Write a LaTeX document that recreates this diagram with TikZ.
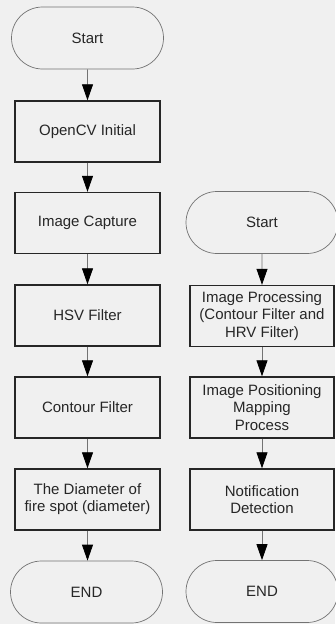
\documentclass[tikz,border=0pt]{standalone}
\usepackage{fontspec}
\setmainfont{Liberation Sans}
\usetikzlibrary{arrows.meta,shapes.misc}
\begin{document}
\begin{tikzpicture}[x=1pt,y=-1pt,
  txt/.style={font=\fontsize{15}{17.2}\selectfont, text=black!85, align=center, inner sep=0pt},
  box/.style={txt, draw=black!85, line width=1.4pt, minimum width=145pt, minimum height=61pt},
  term/.style={txt, draw=black!55, line width=0.7pt, rounded rectangle, minimum width=152pt, minimum height=62pt},
  arr/.style={draw=black!55, line width=0.8pt, -{Triangle[color=black,length=16pt,width=11pt]}}]
\useasboundingbox (0,0) rectangle (335,624);
\fill[black!6] (0,0) rectangle (335,624);
% left column
\node[term] (s1) at (87.5,38) {Start};
\node[box] (a1) at (87.5,131.5) {OpenCV Initial};
\node[box] (a2) at (87.5,223) {Image Capture};
\node[box] (a3) at (87.5,315.5) {HSV Filter};
\node[box] (a4) at (87.5,407.5) {Contour Filter};
\node[box] (a5) at (87.5,499.5) {The Diameter of\\fire spot (diameter)};
\node[term] (e1) at (86.5,592) {END};
% right column
\node[term] (s2) at (262,222.5) {Start};
\node[box, minimum width=144pt] (b1) at (262,316) {Image Processing\\(Contour Filter and\\HRV Filter)};
\node[box, minimum width=144pt] (b2) at (262,407.5) {Image Positioning\\Mapping\\Process};
\node[box, minimum width=144pt] (b3) at (262,499.5) {Notification\\Detection};
\node[term] (e2) at (262,591.5) {END};
% connectors
\draw[arr] (s1) -- (a1);
\draw[arr] (a1) -- (a2);
\draw[arr] (a2) -- (a3);
\draw[arr] (a3) -- (a4);
\draw[arr] (a4) -- (a5);
\draw[arr] (a5.south) -- (a5.south |- e1.north);
\draw[arr] (s2) -- (b1);
\draw[arr] (b1) -- (b2);
\draw[arr] (b2) -- (b3);
\draw[arr] (b3) -- (e2);
\end{tikzpicture}
\end{document}
